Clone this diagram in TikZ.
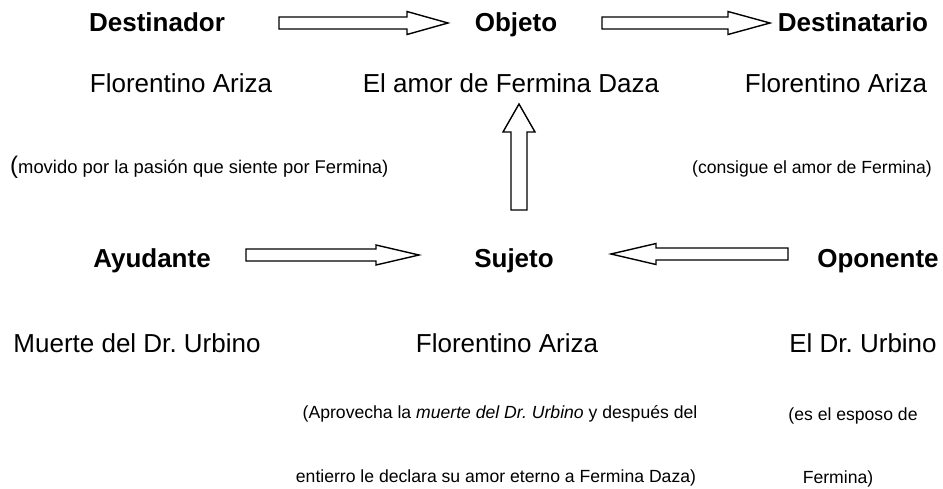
\documentclass[tikz,border=0pt]{standalone}
\usepackage{fontspec}
\setmainfont{Liberation Sans}
\usetikzlibrary{calc}
\frenchspacing
\tikzset{
  role/.style={inner sep=0pt, anchor=base, font=\fontsize{26}{30}\selectfont\bfseries},
  actor/.style={inner sep=0pt, anchor=base, font=\fontsize{26}{30}\selectfont},
  note/.style={inner sep=0pt, anchor=base, font=\fontsize{17.6}{22}\selectfont},
  blockline/.style={draw=black, line width=1.4pt, fill=white, line join=miter}
}
% block arrow from #1 to #2: head length #3, shaft half width #4, head half width #5
\newcommand\blockarrow[5]{%
  \coordinate (hb) at ($(#2)!#3!(#1)$);
  \draw[blockline]
    ($(#1)!#4!90:(#2)$) -- ($(hb)!#4!-90:(#1)$) -- ($(hb)!#5!-90:(#1)$) --
    (#2) -- ($(hb)!#5!90:(#1)$) -- ($(hb)!#4!90:(#1)$) --
    ($(#1)!#4!-90:(#2)$) -- cycle;
}
\begin{document}
\begin{tikzpicture}[x=1pt,y=-1pt]
\useasboundingbox (0,0) rectangle (943,488);
% top row
\node[role] (destinador) at (157,31.5) {Destinador};
\node[role] (objeto) at (516,31.5) {Objeto};
\node[role] (destinatario) at (853,31.5) {Destinatario};
\node[actor] (fa1) at (181,92.5) {Florentino Ariza};
\node[actor] (amor) at (511,92.5) {El amor de Fermina Daza};
\node[actor] (fa2) at (836,92.5) {Florentino Ariza};
\node[note, anchor=base west, font=\fontsize{18.4}{22}\selectfont] (movido) at (10,173.5) {{\fontsize{24}{24}\selectfont(}movido por la pasión que siente por Fermina)};
\node[note] (consigue) at (812,173.5) {(consigue el amor de Fermina)};
% middle row
\node[role] (ayudante) at (152,267) {Ayudante};
\node[role] (sujeto) at (514,267) {Sujeto};
\node[role] (oponente) at (878,267) {Oponente};
\node[actor] (muerte) at (137,352) {Muerte del Dr. Urbino};
\node[actor] (fa3) at (507,352) {Florentino Ariza};
\node[actor] (urbino) at (863,352) {El Dr. Urbino};
\node[note] (aprovecha) at (500,418.5) {(Aprovecha la \textit{muerte del Dr. Urbino} y después del};
\node[note] (entierro) at (496,482.5) {entierro le declara su amor eterno a Fermina Daza)};
\node[note] (esposo) at (853,420.5) {(es el esposo de};
\node[note] (fermina) at (838,483.5) {Fermina)};
% arrow end points
\coordinate (a1s) at (279,23);
\coordinate (a1e) at (448,23);
\coordinate (a2s) at (602,23);
\coordinate (a2e) at (770,23);
\coordinate (vs) at (519,210);
\coordinate (ve) at (519,104);
\coordinate (a3s) at (246,255);
\coordinate (a3e) at (419,255);
\coordinate (a4s) at (788,254);
\coordinate (a4e) at (611,254);
\blockarrow{a1s}{a1e}{41pt}{6pt}{11.5pt}
\blockarrow{a2s}{a2e}{42pt}{6pt}{11.5pt}
\blockarrow{vs}{ve}{28pt}{8pt}{16pt}
\blockarrow{a3s}{a3e}{43pt}{6pt}{10pt}
\blockarrow{a4s}{a4e}{45pt}{6pt}{10.5pt}
\end{tikzpicture}
\end{document}
